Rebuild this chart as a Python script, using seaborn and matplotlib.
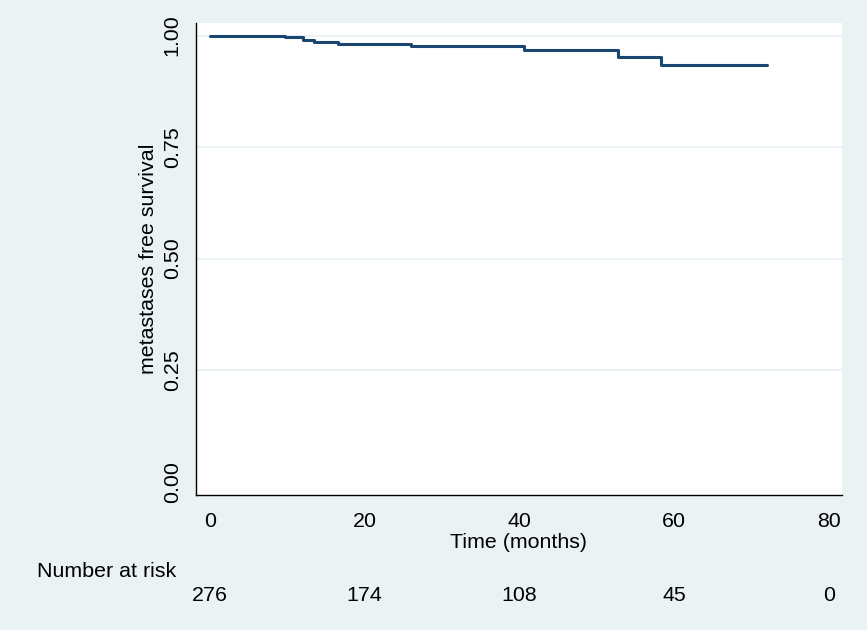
import matplotlib
matplotlib.use('Agg')
import matplotlib.pyplot as plt
import matplotlib.transforms as mtransforms
import seaborn as sns
import pandas as pd

# Kaplan-Meier estimate
times = [0, 9.7, 12.0, 13.5, 16.6, 26.0, 40.6, 52.8, 58.3, 72.0]
survival = [1.000, 0.996, 0.991, 0.986, 0.982, 0.976, 0.967, 0.951, 0.933, 0.933]

risk_times = [0, 20, 40, 60, 80]
risk_counts = [276, 174, 108, 45, 0]

x_ticks = [0, 20, 40, 60, 80]
y_ticks = [0.00, 0.25, 0.50, 0.75, 1.00]

bg = '#EAF2F3'
navy = '#1A476F'

sns.set_theme(style='white')
plt.rcParams['font.family'] = ['Liberation Sans', 'DejaVu Sans']
plt.rcParams['font.size'] = 15.4
plt.rcParams['text.color'] = 'black'
plt.rcParams['axes.labelcolor'] = 'black'

df = pd.DataFrame({'time': times, 'surv': survival})

fig = plt.figure(figsize=(8.67, 6.30), dpi=100, facecolor=bg)
ax = fig.add_axes([0.2257, 0.2143, 0.7455, 0.7497])
ax.set_facecolor('white')

for y in y_ticks[1:]:
    ax.axhline(y, color=bg, lw=1.5, zorder=0)

sns.lineplot(data=df, x='time', y='surv', ax=ax, color=navy, lw=2.2,
             drawstyle='steps-post', estimator=None, sort=False)

ax.set_xlim(-1.85, 81.7)
ax.set_ylim(-0.030, 1.029)
ax.set_xticks(x_ticks)
ax.set_yticks(y_ticks)
ax.set_yticklabels([f'{v:.2f}' for v in y_ticks], rotation=90, va='center')
ax.tick_params(axis='both', direction='out', length=6, width=1, color='black',
               labelsize=15.4, labelcolor='black')
ax.tick_params(axis='x', pad=6)
ax.tick_params(axis='y', pad=4)

for side in ['top', 'right']:
    ax.spines[side].set_visible(False)
for side in ['left', 'bottom']:
    ax.spines[side].set_color('black')
    ax.spines[side].set_linewidth(1)

ax.set_xlabel('Time (months)', fontsize=15.4, color='black')
ax.set_ylabel('metastases free survival', fontsize=15.4, color='black')
ax.xaxis.set_label_coords(0.4987, -0.0805)
ax.yaxis.set_label_coords(-0.0576, 0.5)

# number at risk table
fig.text(37 / 867, 1 - 571.5 / 630, 'Number at risk', ha='left', va='center',
         fontsize=15.4, color='black')
trans = mtransforms.blended_transform_factory(ax.transData, fig.transFigure)
for t, n in zip(risk_times, risk_counts):
    ax.text(t, 1 - 595.5 / 630, str(n), transform=trans, ha='center',
            va='center', fontsize=15.4, color='black', clip_on=False)

fig.savefig('out.png', dpi=100, facecolor=bg)
